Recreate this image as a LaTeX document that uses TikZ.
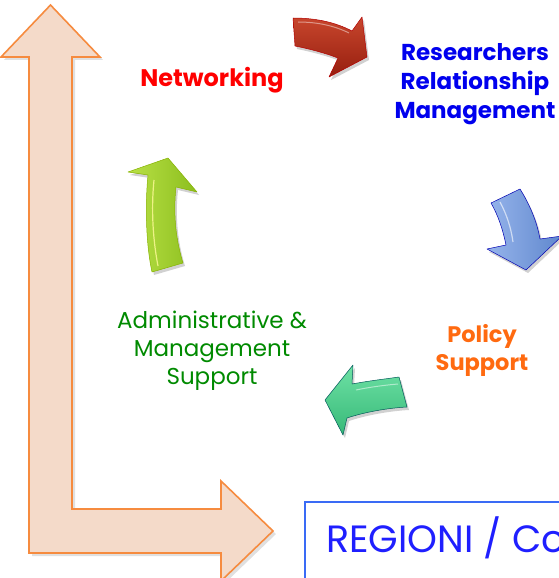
\documentclass[tikz,border=0pt]{standalone}
\usepackage{fontspec}
\setmainfont{Poppins}
\usetikzlibrary{shadows}
\definecolor{peach}{HTML}{F4DAC9}
\definecolor{peachline}{HTML}{F68B3F}
\definecolor{netred}{HTML}{FF0000}
\definecolor{rrmblue}{HTML}{0000EE}
\definecolor{polorange}{HTML}{FF6A10}
\definecolor{admgreen}{HTML}{008A00}
\definecolor{boxblue}{HTML}{3A6BF5}
\definecolor{regblue}{HTML}{1F1FFF}
\tikzset{
  lbl/.style={align=center, inner sep=0pt},
  arrowshadow/.style={fill=black, opacity=0.18},
  arr/.style={draw=#1!70!black, line width=0.5pt, line join=round},
}
\begin{document}
\begin{tikzpicture}[x=1pt,y=-1pt]
\useasboundingbox (0,0) rectangle (558,578);
% big L arrow shadow
\fill[black, opacity=0.12, xshift=3pt, yshift=-3pt]
 (50.5,5) -- (100,57) -- (72,57) -- (72,509) -- (221,509) -- (221,481) -- (273,531) -- (221,581) -- (221,553) -- (29,553) -- (29,57) -- (1,57) -- cycle;
% big L arrow
\draw[fill=peach, draw=peachline, line width=1.6pt, line join=miter]
 (50.5,5) -- (100,57) -- (72,57) -- (72,509) -- (221,509) -- (221,481) -- (273,531) -- (221,581) -- (221,553) -- (29,553) -- (29,57) -- (1,57) -- cycle;

% red arrow
\fill[arrowshadow, xshift=2pt, yshift=-3pt] (293,18) .. controls (315,18) and (335,22) .. (352,31) -- (362,17) -- (367,57) -- (329,77) -- (338,58) .. controls (325,53) and (310,49) .. (295,46) -- cycle;
\draw[arr=red, top color={rgb,255:red,200;green,70;blue,45}, bottom color={rgb,255:red,150;green,30;blue,15}]
 (293,18) .. controls (315,18) and (335,22) .. (352,31) -- (362,17) -- (367,57) -- (329,77) -- (338,58) .. controls (325,53) and (310,49) .. (295,46) -- cycle;
\draw[white, opacity=0.45, line width=1pt] (298,22) .. controls (318,22) and (335,26) .. (349,33);

% blue arrow
\fill[arrowshadow, xshift=2pt, yshift=-3pt] (491,203) -- (520,189) .. controls (530,205) and (537,222) .. (540,239) -- (562,236) -- (526,270) -- (487,249) -- (506,245) .. controls (503,230) and (498,215) .. (491,203) -- cycle;
\draw[arr=blue, left color={rgb,255:red,150;green,180;blue,235}, right color={rgb,255:red,95;green,135;blue,205}]
 (491,203) -- (520,189) .. controls (530,205) and (537,222) .. (540,239) -- (562,236) -- (526,270) -- (487,249) -- (506,245) .. controls (503,230) and (498,215) .. (491,203) -- cycle;
\draw[white, opacity=0.6, line width=1.2pt] (500,202) .. controls (507,215) and (511,228) .. (513,242);

% teal arrow
\fill[arrowshadow, xshift=2pt, yshift=-3pt] (325,400) -- (353,365) -- (352,384) .. controls (368,381) and (385,379) .. (399,377) -- (407,407) .. controls (388,408) and (365,412) .. (347,418) -- (343,435) -- cycle;
\draw[arr=teal, top color={rgb,255:red,110;green,225;blue,165}, bottom color={rgb,255:red,55;green,185;blue,120}]
 (325,400) -- (353,365) -- (352,384) .. controls (368,381) and (385,379) .. (399,377) -- (407,407) .. controls (388,408) and (365,412) .. (347,418) -- (343,435) -- cycle;
\draw[white, opacity=0.5, line width=1pt] (356,390) .. controls (370,387) and (386,385) .. (398,384);

% lime arrow
\fill[arrowshadow, xshift=2pt, yshift=-3pt] (168,158) -- (197,192) -- (176,187) .. controls (173,215) and (176,240) .. (183,263) -- (152,272) .. controls (146,245) and (145,205) .. (148,175) -- (128,172) -- cycle;
\draw[arr=lime, left color={rgb,255:red,185;green,225;blue,70}, right color={rgb,255:red,140;green,190;blue,30}]
 (168,158) -- (197,192) -- (176,187) .. controls (173,215) and (176,240) .. (183,263) -- (152,272) .. controls (146,245) and (145,205) .. (148,175) -- (128,172) -- cycle;
\draw[white!60!yellow, opacity=0.8, line width=1.2pt] (154,180) .. controls (151,210) and (153,240) .. (158,266);

% labels
\node[lbl, text=netred, font=\bfseries\fontsize{24}{28}\selectfont] (net) at (212,80) {Networking};
\node[lbl, text=rrmblue, font=\bfseries\fontsize{23}{29}\selectfont] (rrm) at (475,84) {Researchers\\Relationship\\Management};
\node[lbl, text=polorange, font=\bfseries\fontsize{22.5}{28}\selectfont] (pol) at (482,350) {Policy\\Support};
\node[lbl, text=admgreen, font=\fontsize{23}{28}\selectfont] (adm) at (212,351) {Administrative \&\\Management\\Support};

% REGIONI box
\draw[boxblue, line width=1.8pt] (305,600) -- (305,502) -- (600,502);
\node[anchor=base west, inner sep=0pt, text=regblue, font=\fontsize{38}{44}\selectfont] (reg) at (326,552) {REGIONI / Co};
\end{tikzpicture}
\end{document}
